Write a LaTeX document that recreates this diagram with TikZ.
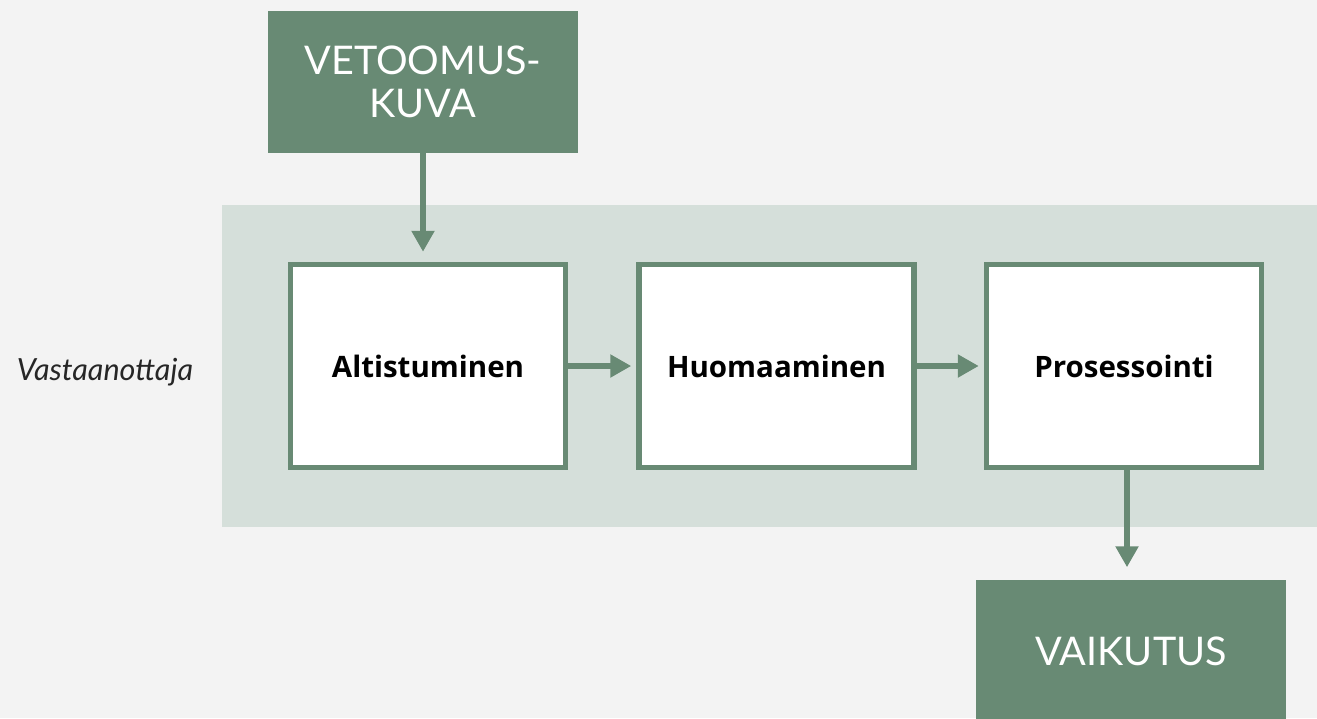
\documentclass[tikz,border=0pt]{standalone}
\usepackage{fontspec}
\setmainfont{Lato}
\newfontfamily\boldfont{Open Sans}
\usetikzlibrary{arrows.meta,positioning}
\definecolor{sage}{HTML}{688A74}
\definecolor{band}{HTML}{D5DFDA}
\definecolor{paper}{HTML}{F3F3F3}
\tikzset{
  stage/.style={draw=sage,line width=5.5pt,fill=white,minimum width=275pt,minimum height=203pt,
    font=\boldfont\fontsize{29.5}{34}\selectfont\bfseries},
  term/.style={fill=sage,text=white,minimum width=310pt,minimum height=142pt,align=center,
    font=\fontsize{39.5}{43}\selectfont},
  flow/.style={draw=sage,line width=6pt,-{Triangle[width=22pt,length=21pt]}}
}
\begin{document}
\begin{tikzpicture}[x=1pt,y=-1pt]
        %% page and band
        \fill[paper] (0,0) rectangle (1317,718);
        \useasboundingbox (0,0) rectangle (1317,718);
        \fill[band] (222,205) rectangle (1317,527);
        %% stages
        \node[stage] (alt) at (428,366) {Altistuminen};
        \node[stage] (huo) at (776.5,366) {Huomaaminen};
        \node[stage] (pro) at (1124,366) {Prosessointi};
        \node[font=\itshape\fontsize{30.5}{34}\selectfont,text=black!85] (vas) at (105,372) {Vastaanottaja};
        %% input and output
        \node[term] (vet) at (423,82) {VETOOMUS-\\KUVA};
        \begin{scope}
        \clip (0,0) rectangle (1317,718);
        \node[term] (vai) at (1131,651) {VAIKUTUS};
        \end{scope}
        %% arrows
        \draw[flow,shorten >=10pt] (vet.south) -- (vet.south |- alt.north);
        \draw[flow,shorten >=5pt] (alt) -- (huo);
        \draw[flow,shorten >=5pt] (huo) -- (pro);
        \draw[flow,shorten >=8pt] (pro.south -| vai.north) ++(-4,0) -- ++(0,105);
\end{tikzpicture}
\end{document}
